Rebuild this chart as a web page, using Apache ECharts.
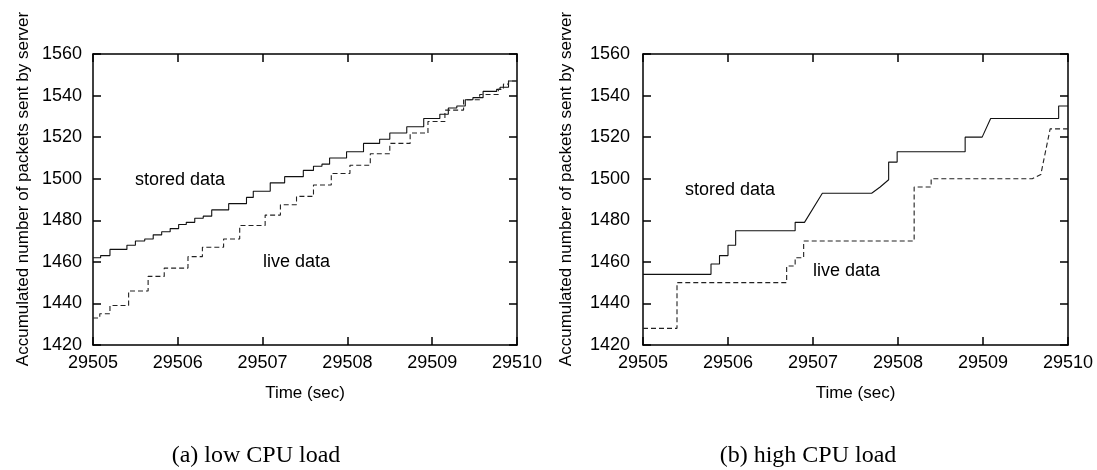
<!DOCTYPE html>
<html><head><meta charset="utf-8">
<script src="https://cdn.jsdelivr.net/npm/echarts@6/dist/echarts.min.js"></script>
<style>html,body{margin:0;padding:0;background:#fff}#c{width:1097px;height:470px}</style>
</head><body><div id="c"></div>
<script>
const timeTicks = [29505, 29506, 29507, 29508, 29509, 29510];
const countTicks = [1420, 1440, 1460, 1480, 1500, 1520, 1540, 1560];
const xName = 'Time (sec)';
const yName = 'Accumulated number of packets sent by server';
const panelCaptions = ['(a) low CPU load', '(b) high CPU load'];
const seriesNames = ['stored data', 'live data'];

// (a) low CPU load: [time, packets], drawn as stair steps
const lowStored = [
  [29505.00,1462],[29505.09,1463],[29505.20,1466],[29505.40,1468],[29505.50,1470],
  [29505.61,1471],[29505.71,1473],[29505.81,1474.5],[29505.91,1476],[29506.01,1478],
  [29506.10,1479],[29506.20,1481],[29506.30,1482],[29506.40,1485],[29506.60,1488],
  [29506.81,1491],[29506.89,1494],[29507.09,1498],[29507.26,1501],[29507.48,1504],
  [29507.60,1506],[29507.70,1507],[29507.79,1510],[29507.99,1513],[29508.19,1517],
  [29508.38,1519],[29508.50,1522],[29508.70,1525],[29508.90,1529],[29509.09,1531],
  [29509.19,1534],[29509.29,1535],[29509.39,1538],[29509.48,1539],[29509.60,1542],
  [29509.76,1543],[29509.80,1544],[29509.90,1547],[29510.00,1547]
];
const lowLive = [
  [29505.00,1433],[29505.08,1435],[29505.20,1439],[29505.42,1446],[29505.65,1453],
  [29505.84,1457],[29506.12,1462.5],[29506.29,1467],[29506.54,1471],[29506.73,1477.5],
  [29507.03,1482.5],[29507.21,1487.5],[29507.40,1491.5],[29507.60,1497],[29507.81,1502.5],
  [29508.03,1506.5],[29508.27,1512],[29508.50,1517],[29508.74,1522],[29508.95,1527.5],
  [29509.15,1533],[29509.37,1538],[29509.56,1540.5],[29509.78,1543],[29509.84,1545.5],
  [29509.90,1547],[29510.00,1547]
];

// (b) high CPU load: [time, packets] polyline vertices
const highStored = [
  [29505.00,1454],[29505.80,1454],[29505.80,1459],[29505.90,1459],[29505.90,1463],
  [29506.00,1463],[29506.00,1468],[29506.09,1468],[29506.09,1475],[29506.79,1475],
  [29506.79,1479],[29506.90,1479],[29507.11,1493],[29507.69,1493],[29507.79,1496],
  [29507.89,1499.5],[29507.89,1508],[29507.99,1508],[29507.99,1513],[29508.79,1513],
  [29508.79,1520],[29508.99,1520],[29509.09,1529],[29509.89,1529],[29509.89,1535],
  [29510.00,1535]
];
const highLive = [
  [29505.00,1428],[29505.40,1428],[29505.40,1450],[29506.69,1450],[29506.69,1458],
  [29506.79,1458],[29506.79,1462],[29506.89,1462],[29506.89,1470],[29508.19,1470],
  [29508.19,1496],[29508.39,1496],[29508.39,1500],[29509.58,1500],[29509.68,1502],
  [29509.79,1524],[29510.00,1524]
];

const FONT = '"Liberation Sans", Arial, sans-serif';
const grids = [
  {left: 93, top: 54, width: 424, height: 291},
  {left: 643, top: 54, width: 425, height: 291}
];
const axLine = {show: true, onZero: false, lineStyle: {color: '#000', width: 1.5}};
const tick = {show: true, inside: true, length: 8, lineStyle: {color: '#000', width: 1.5}};
const xMin = timeTicks[0], xMax = timeTicks[timeTicks.length - 1];
const yMin = countTicks[0], yMax = countTicks[countTicks.length - 1];
const xInt = timeTicks[1] - timeTicks[0], yInt = countTicks[1] - countTicks[0];

const xAxis = [], yAxis = [];
[0, 1].forEach(g => {
  xAxis.push({type: 'value', gridIndex: g, position: 'bottom', min: xMin, max: xMax, interval: xInt,
    axisLine: axLine, axisTick: tick, splitLine: {show: false},
    axisLabel: {fontFamily: FONT, fontSize: 18, color: '#000', margin: 9, formatter: v => String(v)},
    name: xName, nameLocation: 'middle', nameGap: 40,
    nameTextStyle: {fontFamily: FONT, fontSize: 17, color: '#000'}});
  xAxis.push({type: 'value', gridIndex: g, position: 'top', min: xMin, max: xMax, interval: xInt,
    axisLine: axLine, axisTick: tick, splitLine: {show: false}, axisLabel: {show: false}});
  yAxis.push({type: 'value', gridIndex: g, position: 'left', min: yMin, max: yMax, interval: yInt,
    axisLine: axLine, axisTick: tick, splitLine: {show: false},
    axisLabel: {fontFamily: FONT, fontSize: 18, color: '#000', margin: g === 0 ? 11 : 13, formatter: v => String(v)}});
  yAxis.push({type: 'value', gridIndex: g, position: 'right', min: yMin, max: yMax, interval: yInt,
    axisLine: axLine, axisTick: tick, splitLine: {show: false}, axisLabel: {show: false}});
});

function mk(name, data, g, dashed, step) {
  return {type: 'line', name: name, data: data, xAxisIndex: g * 2, yAxisIndex: g * 2,
    step: step, symbol: 'none', silent: true, clip: false,
    lineStyle: {color: dashed ? '#222' : '#111', width: 1.1, type: dashed ? [5, 3] : 'solid'}};
}

const txt = (x, y, s, size, fam, align) => ({type: 'text', x: x, y: y,
  style: {text: s, fontSize: size, fontFamily: fam, fill: '#000', textAlign: align || 'left', textVerticalAlign: 'middle'}});
const rtxt = (x, y, s) => ({type: 'text', x: x, y: y, rotation: Math.PI / 2,
  style: {text: s, fontSize: 17, fontFamily: FONT, fill: '#000', textAlign: 'center', textVerticalAlign: 'middle'}});

const chart = echarts.init(document.getElementById('c'), null, {renderer: 'canvas'});
chart.setOption({
  animation: false,
  backgroundColor: '#fff',
  grid: grids,
  xAxis: xAxis,
  yAxis: yAxis,
  series: [
    mk(seriesNames[0], lowStored, 0, false, 'end'),
    mk(seriesNames[1], lowLive, 0, true, 'end'),
    mk(seriesNames[0], highStored, 1, false, false),
    mk(seriesNames[1], highLive, 1, true, false)
  ],
  graphic: [
    rtxt(23, 189, yName),
    rtxt(566, 189, yName),
    txt(135, 180, seriesNames[0], 18, FONT),
    txt(263, 262, seriesNames[1], 18, FONT),
    txt(685, 190, seriesNames[0], 18, FONT),
    txt(813, 271, seriesNames[1], 18, FONT),
    txt(256, 456, panelCaptions[0], 24, '"Liberation Serif", "Times New Roman", serif', 'center'),
    txt(808, 456, panelCaptions[1], 24, '"Liberation Serif", "Times New Roman", serif', 'center')
  ]
});
</script>
</body></html>
